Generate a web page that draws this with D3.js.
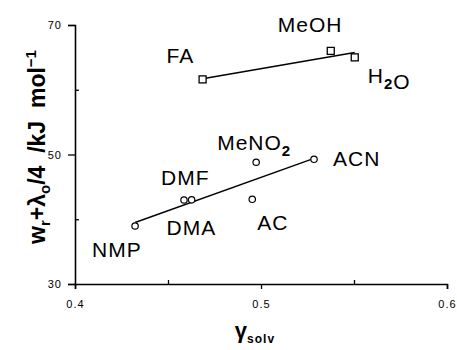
<!DOCTYPE html>
<html>
<head>
<meta charset="utf-8">
<script src="https://cdn.jsdelivr.net/npm/d3@7"></script>
<style>
  body { margin: 0; background: #fff; }
  svg { display: block; font-family: "Liberation Sans", Arial, sans-serif; }
</style>
</head>
<body>
<div id="chart"></div>
<script>
// protic solvents (squares)
const squareNames = ['FA', 'MeOH', 'H2O'];
const squareX = [0.4686, 0.5375, 0.5504];
const squareY = [61.6, 66.0, 65.0];

// aprotic solvents (circles)
const circleNames = ['NMP', 'DMF', 'DMA', 'AC', 'MeNO2', 'ACN'];
const circleX = [0.4323, 0.4586, 0.4627, 0.4953, 0.4974, 0.5285];
const circleY = [38.96, 42.97, 43.0, 43.08, 48.8, 49.26];

// fitted lines, end points
const squareFitX = [0.4686, 0.5504];
const squareFitY = [61.7, 65.75];
const circleFitX = [0.4323, 0.5285];
const circleFitY = [39.5, 49.4];

const xTicks = [0.4, 0.5, 0.6];
const xMinor = [0.45, 0.55];
const yTicks = [30, 50, 70];
const yMinor = [40, 60];

const width = 457, height = 350;
const margin = { top: 25, right: 10, bottom: 66, left: 75 };

const svg = d3.select('#chart').append('svg')
  .attr('width', width)
  .attr('height', height);

const x = d3.scaleLinear().domain([0.4, 0.6]).range([margin.left, 447]);
const y = d3.scaleLinear().domain([30, 70]).range([height - margin.bottom, margin.top]);

// label offsets in px from the marker (left edge, baseline)
const labelOffset = {
  FA: [-36, -16], MeOH: [-53, -19], H2O: [13, 26],
  NMP: [-43, 31], DMF: [-23, -15], DMA: [-25, 35],
  AC: [5, 31], MeNO2: [-39, -12], ACN: [19, 7]
};

// axes
svg.append('g')
  .attr('transform', `translate(0,${y(30)})`)
  .call(d3.axisBottom(x).tickValues(xTicks).tickSize(5).tickPadding(11).tickFormat(d3.format('.1f')));
svg.append('g')
  .attr('transform', `translate(0,${y(30)})`)
  .call(d3.axisBottom(x).tickValues(xMinor).tickSize(-4).tickFormat(''))
  .select('.domain').remove();

svg.append('g')
  .attr('transform', `translate(${x(0.4)},0)`)
  .call(d3.axisLeft(y).tickValues(yTicks).tickSize(7).tickPadding(6));
svg.append('g')
  .attr('transform', `translate(${x(0.4)},0)`)
  .call(d3.axisLeft(y).tickValues(yMinor).tickSize(-4).tickFormat(''))
  .select('.domain').remove();

svg.selectAll('.domain').attr('stroke-width', 1.6);
svg.selectAll('.tick line').attr('stroke-width', 1.3);
svg.selectAll('.tick text')
  .style('font-size', '11px')
  .style('letter-spacing', '1px')
  .style('font-family', '"Liberation Sans", Arial, sans-serif')
  .attr('fill', '#000');

// fit lines
const line = d3.line().x(d => x(d[0])).y(d => y(d[1]));
svg.append('path')
  .datum(squareFitX.map((v, i) => [v, squareFitY[i]]))
  .attr('fill', 'none').attr('stroke', '#000').attr('stroke-width', 1.4)
  .attr('d', line);
svg.append('path')
  .datum(circleFitX.map((v, i) => [v, circleFitY[i]]))
  .attr('fill', 'none').attr('stroke', '#000').attr('stroke-width', 1.4)
  .attr('d', line);

// markers
svg.selectAll('rect.pt')
  .data(squareX)
  .join('rect')
  .attr('class', 'pt')
  .attr('x', d => x(d) - 3.5)
  .attr('y', (d, i) => y(squareY[i]) - 3.5)
  .attr('width', 7).attr('height', 7)
  .attr('fill', '#fff').attr('stroke', '#000').attr('stroke-width', 1.3);

svg.selectAll('circle.pt')
  .data(circleX)
  .join('circle')
  .attr('class', 'pt')
  .attr('cx', d => x(d))
  .attr('cy', (d, i) => y(circleY[i]))
  .attr('r', 3.2)
  .attr('fill', '#fff').attr('stroke', '#000').attr('stroke-width', 1.2);

// point labels, digits become subscripts
function addLabel(name, px, py) {
  const off = labelOffset[name];
  const t = svg.append('text')
    .attr('x', px + off[0])
    .attr('y', py + off[1])
    .style('font-size', '21px')
    .style('letter-spacing', '1px')
    .attr('fill', '#000');
  const parts = name.match(/[A-Za-z]+|\d/g);
  parts.forEach(p => {
    if (/\d/.test(p)) {
      t.append('tspan').attr('dy', 6).style('font-size', '15px').style('font-weight', 'bold').text(p);
      t.append('tspan').attr('dy', -6).text('');
    } else {
      t.append('tspan').text(p);
    }
  });
}
squareNames.forEach((n, i) => addLabel(n, x(squareX[i]), y(squareY[i])));
circleNames.forEach((n, i) => addLabel(n, x(circleX[i]), y(circleY[i])));

// y title
const yt = svg.append('text')
  .attr('transform', `translate(45,147) rotate(-90)`)
  .attr('text-anchor', 'middle')
  .style('font-size', '23px')
  .style('font-weight', 'bold')
  .attr('fill', '#000');
yt.append('tspan').text('w');
yt.append('tspan').attr('dy', 5).style('font-size', '15px').text('r');
yt.append('tspan').attr('dy', -5).text('+λ');
yt.append('tspan').attr('dy', 5).style('font-size', '15px').text('o');
yt.append('tspan').attr('dy', -5).text('/4\u00a0\u00a0/kJ\u00a0 mol');
yt.append('tspan').attr('dy', -9).style('font-size', '15px').text('−1');

// x title
const xt = svg.append('text')
  .attr('x', 255)
  .attr('y', 338)
  .attr('text-anchor', 'middle')
  .style('font-weight', 'bold')
  .attr('fill', '#000');
xt.append('tspan').style('font-size', '22px').text('γ');
xt.append('tspan').attr('dy', 5).style('font-size', '12px').style('letter-spacing', '1px').text('solv');
</script>
</body>
</html>
